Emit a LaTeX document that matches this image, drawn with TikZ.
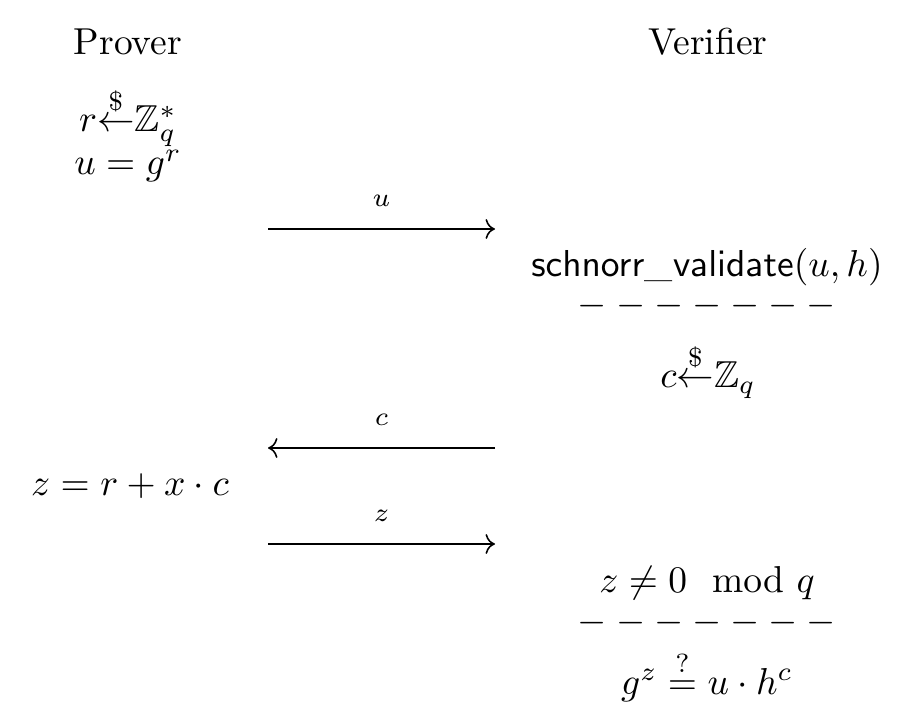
\documentclass[tikz,border=0pt]{standalone}
\usepackage{amsmath,amssymb}
\usetikzlibrary{arrows.meta}
\tikzset{
  txt/.style={anchor=base, inner sep=0pt, outer sep=0pt},
  msg/.style={line width=0.42pt},
  lbl/.style={anchor=base, inner sep=0pt, font=\scriptsize, yshift=5.9pt},
}
\newcommand{\dashrow}{${-}\hspace{2.4pt}{-}\hspace{2.4pt}{-}\hspace{2.4pt}{-}\hspace{2.4pt}{-}\hspace{2.4pt}{-}\hspace{2.4pt}{-}$}
\begin{document}
\begin{tikzpicture}[x=0.2667pt, y=-0.2667pt]
\useasboundingbox (0,0) rectangle (908,724);
% headings
\node[txt] (prover) at (128,55) {Prover};
\node[txt] (verifier) at (708,55) {Verifier};
% prover first move
\node[txt] (sample) at (128,132) {$r{\overset{\$}{\leftarrow}}\mathbb{Z}_q^*$};
\node[txt] (commit) at (128,175) {$u = g^r$};
% message u
\coordinate (ua) at (268,229);
\coordinate (ub) at (495,229);
\draw[msg,->] (ua) -- node[lbl] (ulbl) {$u$} (ub);
% verifier
\node[txt] (valid) at (707,277) {$\mathsf{schnorr\_validate}(u,h)$};
\node[txt] (dash1) at (707,316) {\dashrow};
\node[txt] (chal) at (708,388) {$c{\overset{\$}{\leftarrow}}\mathbb{Z}_q$};
% message c
\coordinate (ca) at (495,448);
\coordinate (cb) at (268,448);
\draw[msg,->] (ca) -- node[lbl] (clbl) {$c$} (cb);
% response
\node[txt] (resp) at (130,496) {$z = r + x\cdot c$};
% message z
\coordinate (za) at (268,544);
\coordinate (zb) at (495,544);
\draw[msg,->] (za) -- node[lbl] (zlbl) {$z$} (zb);
% checks
\node[txt] (nz) at (707,593) {$z \neq 0 \mod q$};
\node[txt] (dash2) at (707,632) {\dashrow};
\node[txt] (eq) at (707,694) {$g^z \stackrel{?}{=} u\cdot h^c$};
\end{tikzpicture}
\end{document}
